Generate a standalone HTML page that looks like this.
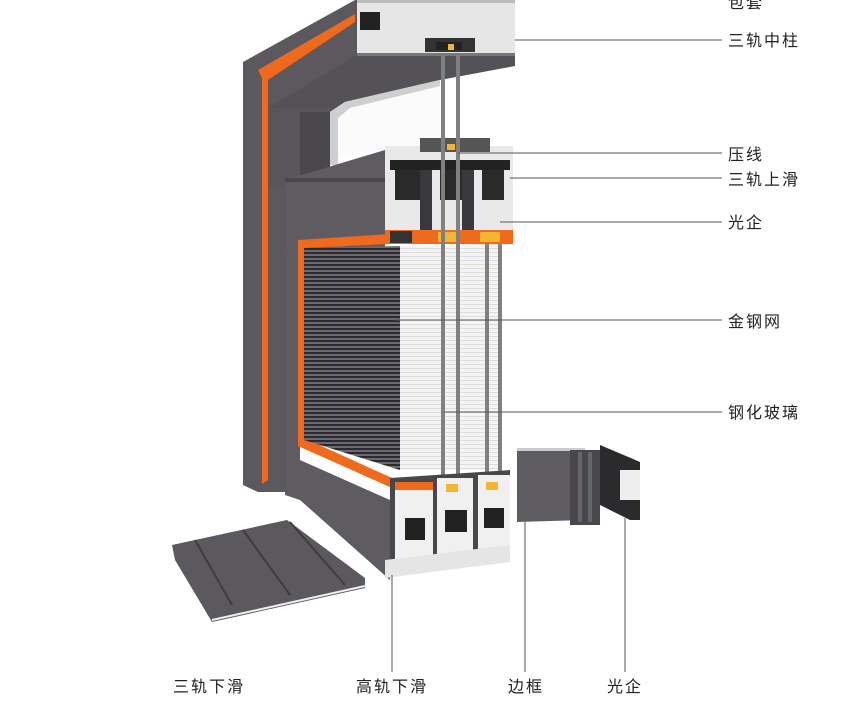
<!DOCTYPE html>
<html><head><meta charset="utf-8"><style>
html,body{margin:0;padding:0;background:#fff;width:860px;height:711px;overflow:hidden}
svg{display:block}
text{font-family:"Liberation Sans","Noto Sans CJK SC",sans-serif;font-size:16px;fill:#222;letter-spacing:2px}
</style></head><body>
<svg width="860" height="711" viewBox="0 0 860 711" xmlns="http://www.w3.org/2000/svg">
<defs>
<pattern id="mesh" width="6" height="4" patternUnits="userSpaceOnUse">
<rect width="6" height="4" fill="#6a6a70"/><rect width="6" height="2" fill="#2a2a30"/>
</pattern>
<pattern id="glass" width="6" height="4" patternUnits="userSpaceOnUse">
<rect width="6" height="4" fill="#f4f4f4"/><rect width="6" height="1" fill="#dcdcdc"/>
</pattern>
</defs>
<!-- left outer column & top slanted frame -->
<polygon points="243,62 355,0 362,0 362,60 300,120 300,492 258,492 243,485" fill="#5b585e"/>
<polygon points="258,70 355,14 355,22 268,80 268,480 262,484 262,78" fill="#ef6a1c"/>
<!-- ceiling slope -->
<polygon points="268,108 357,55 515,55 515,66 440,80 345,102 330,112" fill="#545157"/>
<!-- top profile section -->
<rect x="357" y="0" width="158" height="55" fill="#e6e6e6"/>
<rect x="357" y="0" width="158" height="3" fill="#bbb"/>
<rect x="360" y="12" width="20" height="18" fill="#222"/>
<rect x="425" y="38" width="50" height="14" fill="#333"/>
<rect x="436" y="42" width="26" height="8" fill="#222"/>
<rect x="448" y="44" width="6" height="6" fill="#f2b632"/>
<rect x="357" y="53" width="158" height="3" fill="#777"/>
<!-- interior opening -->
<polygon points="330,112 345,102 440,80 440,150 385,150 330,160" fill="#fbfbfb"/>
<polygon points="330,112 345,102 440,80 440,86 350,108 338,118 338,165 330,165" fill="#cfcfcf"/>
<rect x="268" y="108" width="62" height="80" fill="#58555b"/>
<rect x="300" y="112" width="30" height="70" fill="#4a474c"/>
<!-- header band -->
<polygon points="285,180 385,150 385,240 285,255" fill="#5e5b61"/>
<rect x="285" y="178" width="100" height="4" fill="#4a474c"/>
<!-- middle profile block -->
<rect x="385" y="146" width="128" height="98" fill="#e9e9e9"/>
<rect x="420" y="138" width="70" height="14" fill="#555"/>
<rect x="447" y="144" width="8" height="6" fill="#f2b632"/>
<rect x="390" y="160" width="120" height="10" fill="#222"/>
<rect x="395" y="170" width="25" height="30" fill="#2a2a2a"/>
<rect x="440" y="170" width="22" height="30" fill="#2a2a2a"/>
<rect x="482" y="170" width="22" height="30" fill="#2a2a2a"/>
<rect x="420" y="170" width="12" height="60" fill="#3a383c"/>
<rect x="462" y="170" width="12" height="60" fill="#3a383c"/>
<rect x="385" y="230" width="128" height="14" fill="#ef6a1c"/>
<rect x="390" y="231" width="22" height="12" fill="#333"/>
<rect x="438" y="232" width="20" height="10" fill="#f2b632"/>
<rect x="480" y="232" width="20" height="10" fill="#f2b632"/>
<!-- side of frame around window -->
<polygon points="285,255 385,240 385,248 300,248 300,460 390,500 390,580 300,500 285,495" fill="#5e5b61"/>
<polygon points="298,240 390,234 390,244 304,248 304,438 392,478 392,488 298,446" fill="#ef6a1c"/>
<!-- mesh & glass -->
<polygon points="304,248 400,246 400,470 304,440" fill="url(#mesh)"/>
<polygon points="400,246 500,244 500,470 400,470" fill="url(#glass)"/>
<g fill="#808080">
<rect x="441" y="55" width="4" height="420"/><rect x="456" y="55" width="4" height="420"/>
<rect x="485" y="244" width="4" height="230"/><rect x="498" y="244" width="4" height="230"/>
</g>
<!-- bottom profile block -->
<polygon points="390,478 510,470 510,548 390,560" fill="#4a474c"/>
<rect x="395" y="482" width="38" height="80" fill="#f0f0f0"/>
<rect x="437" y="478" width="36" height="84" fill="#f0f0f0"/>
<rect x="478" y="475" width="32" height="82" fill="#f0f0f0"/>
<rect x="395" y="482" width="38" height="8" fill="#ef6a1c"/>
<rect x="405" y="518" width="20" height="22" fill="#222"/>
<rect x="445" y="510" width="22" height="22" fill="#222"/>
<rect x="484" y="508" width="20" height="20" fill="#222"/>
<rect x="446" y="484" width="12" height="8" fill="#f2b632"/>
<rect x="486" y="482" width="12" height="8" fill="#f2b632"/>
<polygon points="385,560 510,545 510,562 385,578" fill="#e5e5e5"/>
<!-- floor plate -->
<polygon points="172,545 287,520 365,578 365,588 212,622 175,560" fill="#5b585e"/>
<g stroke="#3e3c40" stroke-width="2"><line x1="195" y1="540" x2="232" y2="605"/><line x1="243" y1="530" x2="290" y2="595"/><line x1="290" y1="522" x2="345" y2="585"/></g>
<line x1="212" y1="620" x2="365" y2="586" stroke="#eee" stroke-width="2"/>
<!-- right loose pieces -->
<polygon points="517,450 585,448 585,520 517,522" fill="#5e5b61"/>
<rect x="517" y="448" width="68" height="3" fill="#ccc"/>
<rect x="570" y="450" width="30" height="75" fill="#4a474c"/>
<g fill="#666"><rect x="578" y="452" width="4" height="70"/><rect x="588" y="452" width="4" height="70"/></g>
<polygon points="600,445 640,462 640,520 630,520 600,505" fill="#2b2b2e"/>
<rect x="620" y="470" width="20" height="30" fill="#eee"/>
<!-- leader lines -->
<g stroke="#555" stroke-width="1">
<line x1="515" y1="40" x2="722" y2="40"/>
<line x1="458" y1="153" x2="722" y2="153"/>
<line x1="510" y1="178" x2="722" y2="178"/>
<line x1="500" y1="222" x2="722" y2="222"/>
<line x1="395" y1="320" x2="722" y2="320"/>
<line x1="445" y1="412" x2="722" y2="412"/>
<line x1="392" y1="575" x2="392" y2="672"/>
<line x1="525" y1="522" x2="525" y2="672"/>
<line x1="625" y1="518" x2="625" y2="672"/>
</g>
<!-- labels -->
<text x="728" y="8">包套</text>
<text x="728" y="46">三轨中柱</text>
<text x="728" y="160">压线</text>
<text x="728" y="185">三轨上滑</text>
<text x="728" y="228">光企</text>
<text x="728" y="327">金钢网</text>
<text x="728" y="418">钢化玻璃</text>
<text x="173" y="692">三轨下滑</text>
<text x="356" y="692">高轨下滑</text>
<text x="508" y="692">边框</text>
<text x="607" y="692">光企</text>
</svg>
</body></html>
